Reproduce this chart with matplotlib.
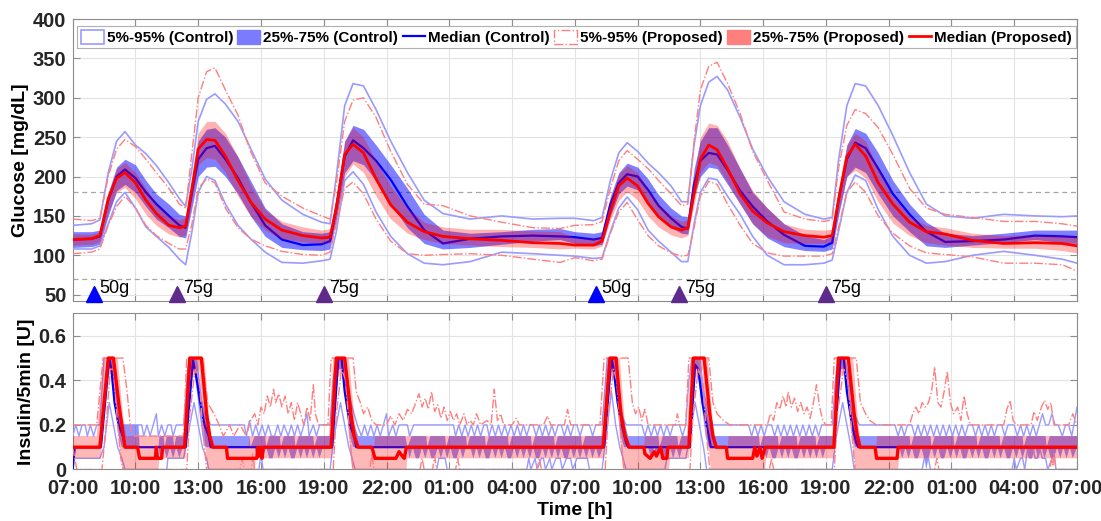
import matplotlib
matplotlib.use("Agg")
import matplotlib.pyplot as plt
from matplotlib.patches import Patch
from matplotlib.lines import Line2D

plt.rcParams['font.family'] = ['Liberation Sans', 'DejaVu Sans']

# ---------------- glucose data (hours after 07:00 day 1) ----------------
T_DAY1 = [0, 0.9, 1.3, 1.7, 2.1, 2.5, 3.0, 3.5, 4.0, 4.6, 5.1, 5.4, 5.7, 6.0, 6.4, 6.8, 7.3, 7.9, 8.5, 9.2,
          10.0, 11.0, 11.9, 12.3, 12.6, 13.0, 13.4, 13.9, 14.5, 15.2, 16.0, 16.8, 17.7, 19.0, 20.5, 22.0, 23.3]
T_DAY2 = [24.0, 24.9, 25.3, 25.7, 26.1, 26.5, 27.0, 27.5, 28.0, 28.6, 29.1, 29.4, 29.7, 30.0, 30.4, 30.8, 31.3,
          31.9, 32.5, 33.2, 34.0, 35.0, 35.9, 36.3, 36.6, 37.0, 37.4, 37.9, 38.5, 39.2, 40.0, 40.8, 41.7, 43.0,
          44.5, 46.0, 47.3, 48.0]

C50_D1 = [120, 121, 124, 170, 200, 209, 198, 180, 165, 150, 138, 135, 180, 222, 236, 239, 222, 198, 168, 138,
          120, 113, 114, 118, 160, 225, 246, 236, 220, 196, 162, 132, 115, 121, 124, 125, 124]
C50_D2 = [123, 120, 122, 165, 192, 203, 200, 183, 163, 147, 136, 134, 190, 220, 230, 228, 208, 182, 162, 143,
          126, 112, 111, 116, 170, 222, 243, 236, 210, 178, 152, 130, 117, 118, 120, 125, 124, 123]
P50_D1 = [120, 121, 125, 172, 198, 205, 192, 170, 153, 138, 135, 137, 185, 235, 247, 246, 226, 195, 168, 146,
          132, 125, 122, 123, 160, 228, 241, 230, 197, 164, 142, 130, 124, 121, 119, 116, 115]
P50_D2 = [113, 113, 118, 156, 188, 198, 188, 166, 149, 136, 132, 135, 179, 222, 240, 234, 210, 178, 156, 141,
          130, 125, 123, 125, 170, 225, 241, 226, 192, 165, 142, 130, 127, 119, 115, 116, 115, 112]
C75_D1 = [130, 130, 132, 180, 212, 222, 215, 195, 178, 165, 152, 150, 195, 245, 260, 262, 250, 225, 195, 160,
          140, 130, 128, 130, 175, 245, 265, 260, 240, 215, 185, 152, 132, 128, 130, 133, 134]
C75_D2 = [130, 128, 130, 175, 205, 217, 212, 197, 177, 160, 150, 149, 210, 245, 262, 262, 240, 210, 180, 160,
          140, 125, 120, 125, 180, 240, 261, 255, 230, 195, 165, 142, 128, 125, 128, 132, 132, 132]
C25_D1 = [110, 111, 114, 150, 182, 190, 180, 162, 146, 135, 124, 122, 160, 200, 212, 213, 200, 178, 150, 124,
          110, 107, 106, 108, 145, 205, 220, 215, 195, 165, 135, 115, 108, 110, 114, 118, 120]
C25_D2 = [115, 112, 114, 150, 178, 188, 183, 165, 148, 135, 128, 127, 175, 200, 212, 210, 190, 165, 140, 122,
          111, 106, 105, 108, 150, 200, 212, 205, 178, 150, 130, 112, 110, 113, 116, 120, 116, 115]
P75_D1 = [127, 127, 130, 178, 210, 218, 205, 185, 165, 150, 145, 148, 200, 255, 270, 270, 255, 225, 190, 158,
          143, 136, 132, 134, 175, 245, 262, 250, 220, 188, 160, 142, 136, 133, 133, 131, 130]
P75_D2 = [122, 121, 125, 170, 203, 214, 205, 183, 165, 150, 143, 145, 200, 250, 268, 265, 245, 210, 182, 160,
          140, 133, 132, 133, 185, 240, 255, 245, 210, 175, 150, 138, 135, 128, 125, 126, 125, 124]
P25_D1 = [113, 114, 117, 155, 180, 186, 172, 152, 138, 127, 123, 126, 170, 215, 224, 222, 205, 175, 150, 132,
          121, 117, 115, 117, 145, 200, 216, 205, 175, 146, 128, 120, 115, 113, 111, 110, 108]
P25_D2 = [109, 108, 112, 145, 170, 181, 170, 150, 136, 126, 122, 125, 165, 205, 218, 214, 192, 165, 140, 124,
          116, 115, 115, 117, 155, 200, 208, 198, 168, 141, 125, 116, 113, 110, 109, 109, 106, 103]
C95_D1 = [138, 140, 145, 205, 245, 257, 240, 229, 214, 192, 172, 162, 210, 270, 298, 305, 292, 270, 236, 197,
          170, 152, 142, 140, 200, 290, 318, 315, 285, 245, 205, 170, 153, 146, 150, 146, 147]
C95_D2 = [147, 144, 148, 195, 230, 243, 232, 217, 205, 188, 168, 168, 240, 290, 320, 327, 310, 275, 235, 200,
          168, 152, 146, 148, 220, 290, 318, 315, 290, 252, 205, 165, 150, 147, 152, 150, 149, 150]
P95_D1 = [146, 144, 147, 200, 235, 247, 238, 222, 205, 185, 165, 160, 230, 300, 333, 338, 310, 278, 232, 192,
          175, 160, 150, 146, 190, 270, 297, 300, 275, 232, 190, 165, 163, 150, 142, 135, 134]
P95_D2 = [138, 139, 143, 185, 220, 233, 222, 210, 195, 178, 163, 165, 245, 310, 340, 345, 318, 280, 232, 195,
          155, 146, 143, 145, 210, 265, 285, 280, 262, 228, 185, 160, 152, 148, 143, 143, 140, 137]
C05_D1 = [108, 108, 112, 140, 168, 180, 160, 136, 124, 110, 95, 88, 130, 180, 200, 195, 165, 138, 121, 104,
          91, 90, 93, 95, 130, 195, 206, 190, 155, 124, 102, 90, 88, 92, 104, 102, 100]
C05_D2 = [99, 96, 97, 130, 160, 174, 158, 132, 118, 104, 92, 92, 140, 180, 198, 196, 175, 152, 124, 100,
          88, 88, 90, 94, 130, 180, 202, 195, 158, 124, 100, 90, 92, 100, 105, 100, 95, 90]
P05_D1 = [102, 104, 108, 138, 162, 175, 160, 138, 125, 115, 108, 108, 140, 185, 197, 192, 160, 135, 121, 112,
          105, 101, 100, 104, 140, 185, 193, 178, 146, 118, 102, 100, 101, 102, 100, 95, 91]
P05_D2 = [97, 93, 95, 128, 155, 167, 145, 125, 112, 103, 99, 100, 135, 175, 194, 190, 165, 138, 115, 103,
          99, 99, 99, 102, 135, 180, 193, 180, 150, 128, 112, 103, 101, 98, 90, 90, 88, 80]

# meals
MEAL_T = [1, 5, 12, 25, 29, 36]
MEAL_LBL = ['50g', '75g', '75g', '50g', '75g', '75g']
MEAL_COL = ['#0000ff', '#5e2a8c', '#5e2a8c', '#0000ff', '#5e2a8c', '#5e2a8c']

XTICK_LBL = ['07:00', '10:00', '13:00', '16:00', '19:00', '22:00', '01:00', '04:00',
             '07:00', '10:00', '13:00', '16:00', '19:00', '22:00', '01:00', '04:00', '07:00']

# ---------------- insulin data: (hour, U/5min) ----------------
INS_C50 = [(0, 0), (0.1, 0.1), (1.35, 0.1), (1.75, 0.5), (1.85, 0.45), (2.0, 0.3), (2.2, 0.2), (2.4, 0.15),
           (2.5, 0.1), (5.4, 0.1), (5.75, 0.49), (5.9, 0.42), (6.1, 0.3), (6.3, 0.2), (6.5, 0.15), (6.6, 0.1),
           (12.4, 0.1), (12.7, 0.5), (12.85, 0.5), (13.0, 0.35), (13.25, 0.2), (13.45, 0.15), (13.55, 0.1),
           (25.4, 0.1), (25.75, 0.5), (25.85, 0.45), (26.05, 0.3), (26.25, 0.2), (26.45, 0.12), (26.55, 0.1),
           (29.5, 0.1), (29.75, 0.47), (29.9, 0.45), (30.1, 0.3), (30.3, 0.2), (30.5, 0.1), (36.4, 0.1),
           (36.7, 0.5), (36.85, 0.5), (37.0, 0.35), (37.25, 0.2), (37.45, 0.12), (37.55, 0.1), (48, 0.1)]

INS_P50 = [(0, 0.1), (1.3, 0.1), (1.7, 0.5), (1.95, 0.5), (2.2, 0.3), (2.35, 0.2), (2.5, 0.1), (3.1, 0.1),
           (3.2, 0.05), (3.95, 0.05), (4.0, 0.1), (4.05, 0.05), (4.25, 0.05), (4.3, 0.1), (5.35, 0.1), (5.6, 0.5),
           (6.15, 0.5), (6.4, 0.25), (6.55, 0.15), (6.7, 0.1), (7.35, 0.1), (7.4, 0.05), (8.8, 0.05), (8.85, 0.1),
           (8.9, 0.06), (9.0, 0.1), (9.05, 0.05), (9.1, 0.1), (12.35, 0.1), (12.6, 0.5), (13.0, 0.5),
           (13.3, 0.25), (13.45, 0.15), (13.65, 0.1), (14.3, 0.1), (14.45, 0.05), (15.45, 0.05), (15.6, 0.08),
           (15.75, 0.06), (15.85, 0.05), (15.95, 0.1), (25.35, 0.1), (25.68, 0.5), (25.97, 0.5), (26.2, 0.25),
           (26.4, 0.15), (26.6, 0.1), (27.3, 0.1), (27.35, 0.07), (27.6, 0.05), (27.8, 0.08), (27.9, 0.06),
           (28.1, 0.1), (28.2, 0.05), (28.4, 0.05), (28.45, 0.1), (29.45, 0.1), (29.67, 0.5), (30.18, 0.5),
           (30.45, 0.25), (30.6, 0.15), (30.76, 0.1), (31.24, 0.1), (31.3, 0.05), (32.5, 0.05), (32.6, 0.1),
           (32.7, 0.06), (32.85, 0.1), (32.95, 0.05), (33.1, 0.1), (36.38, 0.1), (36.6, 0.5), (37.07, 0.5),
           (37.35, 0.25), (37.5, 0.15), (37.63, 0.1), (38.35, 0.1), (38.42, 0.05), (39.4, 0.05), (39.45, 0.1),
           (48, 0.1)]

INS_P75 = [(0, 0.15), (1.15, 0.15), (1.45, 0.5), (2.15, 0.5), (2.4, 0.25), (2.55, 0.15), (5.3, 0.15),
           (5.5, 0.5), (6.3, 0.5), (6.55, 0.2), (6.7, 0.1), (8.4, 0.1), (8.45, 0.15), (12.25, 0.15), (12.45, 0.5),
           (13.2, 0.5), (13.5, 0.2), (13.7, 0.1), (14.4, 0.1), (14.45, 0.15), (25.25, 0.15), (25.55, 0.5),
           (26.15, 0.5), (26.4, 0.2), (26.6, 0.1), (27.3, 0.1), (27.35, 0.15), (29.35, 0.15), (29.55, 0.5),
           (30.35, 0.5), (30.6, 0.2), (30.8, 0.1), (31.3, 0.1), (31.35, 0.15), (36.3, 0.15), (36.5, 0.5),
           (37.3, 0.5), (37.55, 0.2), (37.7, 0.1), (38.4, 0.1), (38.45, 0.15), (48, 0.15)]

INS_P25 = [(0, 0.05), (1.35, 0.05), (1.65, 0.4), (1.9, 0.45), (2.1, 0.25), (2.3, 0.05), (2.4, 0), (4.1, 0),
           (4.15, 0.05), (5.4, 0.05), (5.6, 0.4), (6.05, 0.45), (6.3, 0.15), (6.45, 0), (8.7, 0), (8.75, 0.05),
           (12.4, 0.05), (12.6, 0.4), (12.95, 0.45), (13.2, 0.15), (13.35, 0), (15.95, 0), (16.0, 0.05),
           (25.4, 0.05), (25.65, 0.4), (25.95, 0.45), (26.15, 0.15), (26.3, 0), (28.5, 0), (28.55, 0.05),
           (29.45, 0.05), (29.65, 0.4), (30.1, 0.45), (30.35, 0.15), (30.5, 0), (33.1, 0), (33.15, 0.05),
           (36.4, 0.05), (36.6, 0.4), (37.0, 0.45), (37.25, 0.15), (37.4, 0), (39.45, 0), (39.5, 0.05), (48, 0.05)]

INS_C75 = [(0, 0.1), (1.35, 0.1), (1.7, 0.5), (1.95, 0.5), (2.15, 0.35), (2.35, 0.2), (3.15, 0.2), (3.2, 0.1),
           (4.1, 0.1), (4.15, 0.15), (4.35, 0.15), (4.4, 0.1), (4.5, 0.15), (4.8, 0.15), (4.85, 0.1), (4.95, 0.15),
           (5.35, 0.15), (5.6, 0.5), (5.95, 0.5), (6.2, 0.3), (6.45, 0.2), (6.6, 0.15), (8.45, 0.15), (8.5, 0.1),
           (8.7, 0.15), (9.2, 0.15), (9.25, 0.1), (9.4, 0.15), (9.9, 0.15), (9.95, 0.1), (10.1, 0.15),
           (10.6, 0.15), (10.65, 0.1), (10.8, 0.15), (11.5, 0.15), (11.55, 0.1), (11.7, 0.15), (12.35, 0.15),
           (12.6, 0.5), (12.95, 0.5), (13.2, 0.3), (13.45, 0.2), (13.65, 0.15), (15.9, 0.15), (16.0, 0.1),
           (16.2, 0.15), (16.9, 0.15), (16.95, 0.1), (17.1, 0.15), (17.8, 0.15), (17.85, 0.1), (18.0, 0.15),
           (18.8, 0.15), (18.85, 0.1), (19.0, 0.15), (19.7, 0.15), (19.75, 0.1), (19.9, 0.15), (20.8, 0.15),
           (20.85, 0.1), (21.0, 0.15), (21.9, 0.15), (21.95, 0.1), (22.1, 0.15), (23.0, 0.15), (23.05, 0.1),
           (23.2, 0.15), (24.3, 0.15), (24.35, 0.1), (24.5, 0.15), (25.35, 0.15), (25.6, 0.5), (25.95, 0.5),
           (26.2, 0.3), (26.4, 0.2), (26.55, 0.15), (28.0, 0.15), (28.05, 0.1), (28.2, 0.15), (28.9, 0.15),
           (28.95, 0.1), (29.1, 0.15), (29.45, 0.15), (29.65, 0.5), (30.0, 0.5), (30.25, 0.3), (30.45, 0.2),
           (30.6, 0.15), (32.8, 0.15), (32.85, 0.1), (33.0, 0.15), (33.7, 0.15), (33.75, 0.1), (33.9, 0.15),
           (34.6, 0.15), (34.65, 0.1), (34.8, 0.15), (35.5, 0.15), (35.55, 0.1), (35.7, 0.15), (36.4, 0.15),
           (36.65, 0.5), (36.95, 0.5), (37.2, 0.3), (37.4, 0.2), (37.55, 0.15), (40.0, 0.15), (40.05, 0.1),
           (40.2, 0.15), (41.0, 0.15), (41.05, 0.1), (41.2, 0.15), (42.1, 0.15), (42.15, 0.1), (42.3, 0.15),
           (43.2, 0.15), (43.25, 0.1), (43.4, 0.15), (44.3, 0.15), (44.35, 0.1), (44.5, 0.15), (45.4, 0.15),
           (45.45, 0.1), (45.6, 0.15), (46.5, 0.15), (46.55, 0.1), (46.7, 0.15), (48, 0.15)]

INS_C25 = [(0, 0.1), (1.35, 0.1), (1.7, 0.45), (1.85, 0.45), (2.0, 0.3), (2.2, 0.15), (2.35, 0.1), (4.1, 0.1),
           (4.2, 0.05), (4.35, 0.1), (4.5, 0.05), (4.65, 0.1), (4.8, 0.05), (4.95, 0.1), (5.1, 0.05), (5.25, 0.1),
           (5.4, 0.1), (5.65, 0.45), (5.8, 0.45), (6.0, 0.3), (6.2, 0.15), (6.35, 0.1), (8.7, 0.1), (8.8, 0.05),
           (8.95, 0.1), (9.1, 0.05), (9.25, 0.1), (9.4, 0.05), (9.55, 0.05), (9.7, 0.1), (9.85, 0.05), (10.0, 0.1),
           (10.15, 0.05), (10.3, 0.1), (10.45, 0.05), (10.6, 0.05), (10.75, 0.1), (10.9, 0.05), (11.05, 0.1),
           (11.2, 0.05), (11.35, 0.1), (11.5, 0.05), (11.65, 0.1), (11.8, 0.05), (11.95, 0.1), (12.45, 0.1),
           (12.7, 0.45), (12.85, 0.45), (13.05, 0.3), (13.25, 0.15), (13.4, 0.1), (16.0, 0.1), (16.1, 0.05),
           (16.25, 0.1), (16.4, 0.05), (16.55, 0.05), (16.7, 0.1), (16.85, 0.05), (17.0, 0.1), (17.15, 0.05),
           (17.3, 0.05), (17.45, 0.1), (17.6, 0.05), (17.75, 0.1), (17.9, 0.05), (18.05, 0.1), (18.2, 0.05),
           (18.35, 0.05), (18.5, 0.1), (18.65, 0.05), (18.8, 0.1), (19.0, 0.1), (19.15, 0.05), (19.3, 0.1),
           (19.45, 0.05), (19.6, 0.1), (19.75, 0.05), (19.9, 0.05), (20.05, 0.1), (20.2, 0.05), (20.35, 0.1),
           (20.5, 0.05), (20.65, 0.1), (20.8, 0.05), (20.95, 0.05), (21.1, 0.1), (21.25, 0.05), (21.4, 0.1),
           (21.55, 0.05), (21.7, 0.1), (21.85, 0.05), (22.0, 0.1), (22.15, 0.05), (22.3, 0.05), (22.45, 0.1),
           (22.6, 0.05), (22.75, 0.1), (22.9, 0.05), (23.05, 0.1), (23.2, 0.05), (23.35, 0.1), (23.5, 0.05),
           (23.65, 0.05), (23.8, 0.1), (23.95, 0.05), (24.1, 0.1), (24.25, 0.05), (24.4, 0.1), (24.55, 0.05),
           (24.7, 0.1), (24.85, 0.05), (25.0, 0.1), (25.15, 0.05), (25.35, 0.1), (25.6, 0.45), (25.8, 0.45),
           (26.0, 0.3), (26.2, 0.15), (26.35, 0.1), (27.5, 0.1), (27.65, 0.05), (27.8, 0.1), (27.95, 0.05),
           (28.1, 0.1), (28.25, 0.05), (28.4, 0.05), (28.55, 0.1), (28.7, 0.05), (28.85, 0.1), (29.0, 0.05),
           (29.15, 0.1), (29.45, 0.1), (29.7, 0.45), (29.85, 0.45), (30.05, 0.3), (30.25, 0.15), (30.4, 0.1),
           (33.0, 0.1), (33.15, 0.05), (33.3, 0.1), (33.45, 0.05), (33.6, 0.05), (33.75, 0.1), (33.9, 0.05),
           (34.05, 0.1), (34.2, 0.05), (34.35, 0.1), (34.5, 0.05), (34.65, 0.05), (34.8, 0.1), (34.95, 0.05),
           (35.1, 0.1), (35.25, 0.05), (35.4, 0.1), (35.55, 0.05), (35.7, 0.1), (35.85, 0.05), (36.0, 0.1),
           (36.4, 0.1), (36.65, 0.45), (36.85, 0.45), (37.05, 0.3), (37.25, 0.15), (37.4, 0.1), (39.5, 0.1),
           (39.65, 0.05), (39.8, 0.1), (39.95, 0.05), (40.1, 0.1), (40.25, 0.05), (40.4, 0.05), (40.55, 0.1),
           (40.7, 0.05), (40.8, 0.0), (40.9, 0.05), (41.05, 0.1), (41.2, 0.05), (41.35, 0.1), (41.5, 0.05),
           (41.65, 0.05), (41.8, 0.1), (41.95, 0.05), (42.1, 0.1), (42.25, 0.05), (42.4, 0.1), (42.55, 0.05),
           (42.7, 0.05), (42.85, 0.1), (43.0, 0.05), (43.15, 0.1), (43.3, 0.05), (43.45, 0.1), (43.6, 0.05),
           (43.75, 0.05), (43.9, 0.1), (44.05, 0.05), (44.2, 0.1), (44.35, 0.05), (44.5, 0.1), (44.65, 0.05),
           (44.8, 0.05), (44.95, 0.1), (45.1, 0.05), (45.25, 0.1), (45.4, 0.05), (45.55, 0.1), (45.7, 0.05),
           (45.85, 0.05), (46.0, 0.1), (46.15, 0.05), (46.3, 0.1), (46.45, 0.05), (46.6, 0.1), (46.75, 0.05),
           (46.9, 0.05), (47.05, 0.1), (47.2, 0.05), (47.35, 0.1), (47.5, 0.05), (47.65, 0.1), (47.8, 0.05),
           (48, 0.1)]

INS_C95 = [(0, 0.15), (0.15, 0.2), (0.3, 0.15), (0.45, 0.2), (0.6, 0.2), (0.7, 0.15), (0.85, 0.2), (1.0, 0.15),
           (1.15, 0.2), (1.3, 0.2), (1.5, 0.5), (1.75, 0.5), (1.9, 0.4), (2.1, 0.3), (2.3, 0.2), (3.3, 0.2),
           (3.4, 0.15), (3.55, 0.2), (3.7, 0.15), (3.85, 0.2), (4.0, 0.25), (4.1, 0.15), (4.25, 0.2), (4.4, 0.15),
           (4.55, 0.2), (4.7, 0.2), (4.8, 0.15), (4.95, 0.2), (5.3, 0.2), (5.5, 0.45), (5.6, 0.5), (5.85, 0.5),
           (6.05, 0.35), (6.3, 0.25), (6.6, 0.2), (8.2, 0.2), (8.3, 0.15), (8.45, 0.22), (8.6, 0.15), (8.75, 0.2),
           (8.9, 0.15), (9.05, 0.2), (9.2, 0.15), (9.35, 0.2), (9.5, 0.15), (9.65, 0.15), (9.8, 0.2), (9.95, 0.15),
           (10.1, 0.2), (10.3, 0.15), (10.45, 0.2), (10.6, 0.15), (10.75, 0.2), (10.9, 0.15), (11.05, 0.2),
           (11.2, 0.25), (11.3, 0.15), (11.5, 0.2), (11.65, 0.15), (11.8, 0.2), (12.3, 0.2), (12.45, 0.4),
           (12.6, 0.5), (12.85, 0.5), (13.05, 0.4), (13.3, 0.3), (13.6, 0.2), (13.8, 0.15), (13.95, 0.2),
           (14.1, 0.15), (14.25, 0.2), (14.4, 0.15), (14.55, 0.2), (14.7, 0.15), (14.85, 0.2), (15.0, 0.25),
           (15.1, 0.15), (15.3, 0.2), (15.45, 0.15), (15.6, 0.2), (16.0, 0.2), (16.1, 0.15), (16.3, 0.2),
           (18.2, 0.2), (18.3, 0.15), (18.45, 0.2), (18.6, 0.15), (18.75, 0.2), (18.9, 0.15), (19.05, 0.2),
           (19.2, 0.15), (19.35, 0.2), (19.5, 0.15), (19.65, 0.2), (19.8, 0.2), (19.9, 0.15), (20.05, 0.2),
           (20.2, 0.15), (20.35, 0.2), (20.5, 0.15), (20.65, 0.2), (20.8, 0.15), (20.95, 0.2), (21.1, 0.15),
           (21.25, 0.2), (21.4, 0.15), (21.55, 0.2), (21.7, 0.15), (21.85, 0.2), (22.0, 0.2), (22.15, 0.15),
           (22.3, 0.2), (22.45, 0.15), (22.6, 0.2), (22.75, 0.15), (22.9, 0.2), (23.05, 0.15), (23.2, 0.2),
           (23.35, 0.2), (23.5, 0.15), (23.65, 0.2), (23.8, 0.15), (23.95, 0.2), (24.1, 0.2), (24.25, 0.15),
           (24.4, 0.2), (24.7, 0.2), (24.85, 0.15), (25.0, 0.2), (25.3, 0.2), (25.55, 0.5), (25.8, 0.5),
           (26.0, 0.35), (26.2, 0.25), (26.45, 0.2), (27.2, 0.2), (27.35, 0.15), (27.5, 0.2), (27.65, 0.15),
           (27.8, 0.2), (27.95, 0.15), (28.1, 0.2), (28.25, 0.15), (28.4, 0.2), (28.55, 0.15), (28.7, 0.2),
           (29.0, 0.2), (29.15, 0.15), (29.3, 0.2), (29.45, 0.4), (29.6, 0.5), (29.95, 0.5), (30.15, 0.35),
           (30.4, 0.25), (30.6, 0.2), (32.3, 0.2), (32.45, 0.15), (32.6, 0.2), (32.75, 0.15), (32.9, 0.2),
           (33.05, 0.15), (33.2, 0.2), (33.4, 0.2), (33.55, 0.15), (33.7, 0.2), (33.85, 0.15), (34.0, 0.2),
           (34.15, 0.15), (34.3, 0.2), (34.45, 0.15), (34.6, 0.2), (34.75, 0.15), (34.9, 0.2), (35.05, 0.15),
           (35.2, 0.2), (35.35, 0.15), (35.5, 0.2), (35.65, 0.15), (35.8, 0.2), (36.3, 0.2), (36.45, 0.4),
           (36.6, 0.5), (36.9, 0.5), (37.1, 0.4), (37.35, 0.25), (37.6, 0.2), (39.3, 0.2), (39.45, 0.15),
           (39.6, 0.2), (39.75, 0.15), (39.9, 0.2), (40.1, 0.2), (40.25, 0.15), (40.4, 0.2), (40.55, 0.15),
           (40.7, 0.2), (40.85, 0.15), (41.0, 0.2), (41.15, 0.15), (41.3, 0.2), (41.45, 0.15), (41.6, 0.2),
           (41.75, 0.15), (41.9, 0.2), (42.05, 0.15), (42.2, 0.2), (42.35, 0.15), (42.5, 0.2), (42.65, 0.15),
           (42.8, 0.2), (43.0, 0.2), (43.15, 0.15), (43.3, 0.2), (43.45, 0.15), (43.6, 0.2), (43.75, 0.15),
           (43.9, 0.2), (44.05, 0.15), (44.2, 0.2), (44.4, 0.2), (44.55, 0.15), (44.7, 0.2), (45.0, 0.2),
           (45.15, 0.15), (45.3, 0.2), (45.45, 0.15), (45.6, 0.2), (45.75, 0.15), (45.9, 0.2), (46.05, 0.15),
           (46.2, 0.2), (46.35, 0.25), (46.5, 0.2), (46.65, 0.2), (46.8, 0.25), (46.95, 0.2), (47.1, 0.2),
           (47.3, 0.15), (47.45, 0.2), (47.6, 0.2), (47.75, 0.15), (47.85, 0.2), (48.0, 0.28)]

INS_C05 = [(0, 0.05), (1.3, 0.05), (1.5, 0.1), (1.75, 0.3), (1.95, 0.2), (2.15, 0.1), (2.35, 0.05), (2.5, 0),
           (4.5, 0), (4.55, 0.05), (5.3, 0.05), (5.5, 0.15), (5.8, 0.3), (6.0, 0.2), (6.2, 0.1), (6.4, 0.05),
           (6.5, 0), (8.9, 0), (9.0, 0.07), (9.1, 0), (12.3, 0), (12.5, 0.15), (12.8, 0.3), (13.0, 0.2),
           (13.2, 0.1), (13.35, 0.05), (13.5, 0), (17.4, 0), (17.5, 0.05), (17.8, 0.05), (17.9, 0), (21.7, 0),
           (21.8, 0.05), (21.9, 0), (22.1, 0.05), (22.2, 0), (22.4, 0.05), (22.5, 0.05), (22.6, 0), (22.8, 0.05),
           (22.9, 0), (23.1, 0.05), (23.3, 0.05), (23.4, 0), (23.6, 0.05), (23.8, 0.05), (23.9, 0), (24.1, 0.05),
           (24.6, 0.05), (24.7, 0), (25.3, 0), (25.5, 0.15), (25.75, 0.35), (25.95, 0.2), (26.15, 0.1),
           (26.3, 0.05), (26.45, 0), (28.3, 0), (28.4, 0.05), (29.3, 0.05), (29.5, 0.15), (29.75, 0.3),
           (29.95, 0.2), (30.15, 0.1), (30.3, 0), (36.3, 0), (36.5, 0.15), (36.8, 0.3), (37.0, 0.2), (37.2, 0.1),
           (37.35, 0), (40.6, 0), (40.7, 0.05), (40.9, 0.05), (41.0, 0), (44.9, 0), (45.0, 0.05), (45.1, 0),
           (45.3, 0.05), (45.4, 0.05), (45.5, 0), (45.65, 0.1), (45.8, 0.05), (45.9, 0.1), (46.0, 0.05),
           (46.1, 0.05), (46.2, 0.1), (46.35, 0.05), (46.5, 0.05), (46.6, 0), (46.9, 0.07), (47.0, 0), (48, 0)]

INS_P95 = [(0, 0.2), (1.15, 0.2), (1.45, 0.5), (2.4, 0.5), (2.6, 0.35), (2.75, 0.2), (2.85, 0.15), (5.3, 0.15),
           (5.45, 0.5), (6.2, 0.5), (6.45, 0.3), (6.75, 0.25), (7.0, 0.2), (7.2, 0.15), (7.5, 0.2), (7.7, 0.15),
           (8.0, 0.2), (8.3, 0.15), (8.5, 0.22), (8.7, 0.25), (8.85, 0.2), (9.0, 0.28), (9.15, 0.25), (9.3, 0.33),
           (9.45, 0.28), (9.6, 0.36), (9.7, 0.3), (9.85, 0.34), (10.0, 0.28), (10.15, 0.33), (10.3, 0.25),
           (10.45, 0.3), (10.6, 0.22), (10.75, 0.3), (10.9, 0.25), (11.05, 0.2), (11.2, 0.28), (11.35, 0.22),
           (11.5, 0.38), (11.6, 0.25), (11.75, 0.2), (12.2, 0.2), (12.35, 0.5), (13.4, 0.5), (13.55, 0.35),
           (13.75, 0.3), (13.9, 0.25), (14.1, 0.28), (14.3, 0.22), (14.5, 0.2), (15.0, 0.2), (15.2, 0.24),
           (15.4, 0.2), (15.6, 0.25), (15.8, 0.22), (16.0, 0.27), (16.2, 0.25), (16.4, 0.3), (16.55, 0.34),
           (16.7, 0.28), (16.85, 0.32), (17.0, 0.27), (17.15, 0.35), (17.3, 0.26), (17.45, 0.29), (17.6, 0.23),
           (17.75, 0.28), (17.9, 0.22), (18.05, 0.26), (18.2, 0.22), (18.35, 0.25), (18.5, 0.2), (18.7, 0.25),
           (18.85, 0.2), (19.0, 0.22), (19.15, 0.2), (19.3, 0.25), (19.5, 0.2), (19.8, 0.22), (20.0, 0.2),
           (20.15, 0.36), (20.3, 0.22), (20.45, 0.25), (20.6, 0.2), (21.0, 0.2), (21.2, 0.23), (21.35, 0.2),
           (22.5, 0.2), (22.7, 0.24), (22.85, 0.2), (23.5, 0.2), (23.65, 0.27), (23.8, 0.2), (25.2, 0.2),
           (25.4, 0.5), (26.55, 0.5), (26.75, 0.3), (26.9, 0.25), (27.05, 0.28), (27.2, 0.22), (27.35, 0.27),
           (27.5, 0.2), (28.8, 0.2), (28.9, 0.25), (29.0, 0.2), (29.3, 0.2), (29.45, 0.5), (30.4, 0.5),
           (30.6, 0.3), (30.8, 0.25), (31.1, 0.22), (31.4, 0.2), (33.2, 0.2), (33.35, 0.25), (33.5, 0.22),
           (33.65, 0.3), (33.8, 0.27), (33.95, 0.33), (34.1, 0.28), (34.2, 0.35), (34.35, 0.28), (34.5, 0.32),
           (34.65, 0.26), (34.8, 0.3), (34.95, 0.25), (35.1, 0.28), (35.25, 0.23), (35.4, 0.3), (35.55, 0.38),
           (35.7, 0.28), (35.85, 0.22), (36.0, 0.2), (36.25, 0.2), (36.4, 0.5), (37.45, 0.5), (37.65, 0.3),
           (37.9, 0.25), (38.1, 0.22), (38.4, 0.2), (40.0, 0.2), (40.15, 0.25), (40.3, 0.28), (40.45, 0.25),
           (40.6, 0.3), (40.75, 0.28), (40.9, 0.3), (41.05, 0.35), (41.2, 0.46), (41.35, 0.3), (41.5, 0.28),
           (41.65, 0.35), (41.8, 0.44), (41.95, 0.3), (42.1, 0.25), (42.3, 0.28), (42.45, 0.22), (42.6, 0.33),
           (42.75, 0.25), (42.9, 0.2), (44.5, 0.2), (44.65, 0.27), (44.8, 0.31), (44.95, 0.22), (45.1, 0.2),
           (45.8, 0.2), (45.95, 0.26), (46.1, 0.22), (46.3, 0.28), (46.45, 0.31), (46.6, 0.27), (46.75, 0.3),
           (46.9, 0.2), (47.6, 0.2), (47.8, 0.25), (48, 0.2)]

INS_P05 = [(0, 0.1), (0.1, 0.05), (0.2, 0), (1.4, 0), (1.6, 0.2), (1.8, 0.45), (1.95, 0.45), (2.15, 0.2),
           (2.3, 0.05), (2.4, 0), (5.45, 0), (5.6, 0.25), (5.85, 0.45), (6.05, 0.4), (6.25, 0.15), (6.4, 0),
           (8.0, 0), (8.1, 0.05), (8.2, 0), (8.55, 0), (8.6, 0.07), (8.7, 0), (12.45, 0), (12.6, 0.25),
           (12.85, 0.45), (13.05, 0.4), (13.25, 0.15), (13.4, 0), (14.2, 0), (14.3, 0.07), (14.4, 0), (16.6, 0),
           (16.7, 0.05), (16.8, 0), (17.2, 0), (17.3, 0.06), (17.4, 0), (18.3, 0), (18.4, 0.05), (18.5, 0),
           (22.2, 0), (22.3, 0.05), (22.4, 0), (25.45, 0), (25.6, 0.25), (25.85, 0.45), (26.0, 0.4),
           (26.2, 0.15), (26.35, 0), (29.5, 0), (29.65, 0.25), (29.9, 0.45), (30.1, 0.4), (30.3, 0.15),
           (30.45, 0), (33.3, 0), (33.4, 0.05), (33.5, 0), (36.4, 0), (36.55, 0.25), (36.85, 0.45), (37.05, 0.4),
           (37.25, 0.15), (37.4, 0), (41.2, 0), (41.3, 0.05), (41.4, 0), (46.7, 0), (46.8, 0.05), (46.85, 0.02),
           (46.9, 0.07), (47.0, 0), (48, 0)]

# ---------------- styling ----------------
BLUE = '#0000ff'
RED = '#ff0000'
C_LIGHT = '#9a9aff'
P_LIGHT = '#ff7f7f'
SPINE = '#8c8c8c'
GRID = '#e3e3e3'


def xy(pairs):
    return [p[0] for p in pairs], [p[1] for p in pairs]


def band(ax, lo_pairs, hi_pairs, color, alpha, zorder):
    tx_hi, v_hi = xy(hi_pairs)
    tx_lo, v_lo = xy(lo_pairs)
    ax.fill(tx_hi + tx_lo[::-1], v_hi + v_lo[::-1], color=color, alpha=alpha, lw=0, zorder=zorder)


def style_axes(ax):
    for s in ax.spines.values():
        s.set_color(SPINE)
        s.set_linewidth(0.8)
    ax.tick_params(direction='in', length=5, width=0.8, color=SPINE, top=True, right=True,
                   labelsize=14.5, pad=4.5)
    ax.grid(True, color=GRID, lw=0.8)
    ax.set_axisbelow(True)


fig = plt.figure(figsize=(11.01, 5.21), dpi=100)
ax1 = fig.add_axes([0.066, 0.4223, 0.9122, 0.5412])
ax2 = fig.add_axes([0.066, 0.0989, 0.9122, 0.2994])

T = T_DAY1 + T_DAY2
C05, C25, C50 = C05_D1 + C05_D2, C25_D1 + C25_D2, C50_D1 + C50_D2
C75, C95 = C75_D1 + C75_D2, C95_D1 + C95_D2
P05, P25, P50 = P05_D1 + P05_D2, P25_D1 + P25_D2, P50_D1 + P50_D2
P75, P95 = P75_D1 + P75_D2, P95_D1 + P95_D2

# ---- top: glucose ----
ax1.axhline(180, color='#a6a6a6', ls=(0, (4, 3)), lw=0.9, zorder=1)
ax1.axhline(70, color='#a6a6a6', ls=(0, (4, 3)), lw=0.9, zorder=1)
ax1.fill_between(T, C25, C75, color=BLUE, alpha=0.5, lw=0, zorder=2)
ax1.plot(T, C95, color=C_LIGHT, lw=1.2, zorder=3)
ax1.plot(T, C05, color=C_LIGHT, lw=1.2, zorder=3)
ax1.plot(T, C50, color=BLUE, lw=1.6, zorder=4)
ax1.fill_between(T, P25, P75, color=RED, alpha=0.3, lw=0, zorder=5)
ax1.plot(T, P95, color=P_LIGHT, lw=1.0, ls='-.', zorder=6)
ax1.plot(T, P05, color=P_LIGHT, lw=1.0, ls='-.', zorder=6)
ax1.plot(T, P50, color=RED, lw=2.0, zorder=7)

for t, lbl, col in zip(MEAL_T, MEAL_LBL, MEAL_COL):
    ax1.plot([t], [51], marker='^', ms=11.5, color=col, mec=col, ls='none', zorder=8, clip_on=False)
    ax1.text(t + 0.27, 52.5, lbl, fontsize=13, ha='left', va='baseline', zorder=8)

ax1.set_xlim(0, 48)
ax1.set_ylim(42, 400)
ax1.set_xticks(range(0, 49, 3))
ax1.set_yticks([50, 100, 150, 200, 250, 300, 350, 400])
style_axes(ax1)
ax1.tick_params(labelbottom=False)
for lab in ax1.get_yticklabels():
    lab.set_fontweight('bold')
    lab.set_color('#262626')
ax1.set_ylabel('Glucose [mg/dL]', fontsize=14, fontweight='bold')
ax1.yaxis.set_label_coords(-0.043, 0.5)

handles = [Patch(facecolor='white', edgecolor=C_LIGHT, lw=1.2),
           Patch(facecolor='#7b7bff', edgecolor='#7b7bff'),
           Line2D([], [], color=BLUE, lw=1.6),
           Patch(facecolor='white', edgecolor=P_LIGHT, lw=1.0, ls='-.'),
           Patch(facecolor='#ff7f7f', edgecolor='#ff7f7f'),
           Line2D([], [], color=RED, lw=2.0)]
labels = ['5%-95% (Control)', '25%-75% (Control)', 'Median (Control)',
          '5%-95% (Proposed)', '25%-75% (Proposed)', 'Median (Proposed)']
leg = ax1.legend(handles, labels, ncol=6, loc='upper center', bbox_to_anchor=(0.5016, 0.985),
                 prop={'weight': 'bold', 'size': 11}, frameon=True, fancybox=False, edgecolor='#b0b0b0',
                 framealpha=1, handlelength=1.5, handleheight=1.05, columnspacing=0.28,
                 handletextpad=0.2, borderpad=0.22, borderaxespad=0.2)
leg.get_frame().set_linewidth(0.8)

# ---- bottom: insulin ----
band(ax2, INS_C25, INS_C75, BLUE, 0.42, 2)
ax2.plot(*xy(INS_C95), color=C_LIGHT, lw=1.0, zorder=3)
ax2.plot(*xy(INS_C05), color=C_LIGHT, lw=1.0, zorder=3)
ax2.plot(*xy(INS_C50), color=BLUE, lw=1.6, zorder=4)
band(ax2, INS_P25, INS_P75, RED, 0.28, 5)
ax2.plot(*xy(INS_P95), color=P_LIGHT, lw=1.0, ls='-.', zorder=6)
ax2.plot(*xy(INS_P05), color=P_LIGHT, lw=1.0, ls='-.', zorder=6)
ax2.plot(*xy(INS_P50), color=RED, lw=2.4, zorder=7)

ax2.set_xlim(0, 48)
ax2.set_ylim(0, 0.7)
ax2.set_xticks(range(0, 49, 3))
ax2.set_xticklabels(XTICK_LBL)
ax2.set_yticks([0, 0.2, 0.4, 0.6])
ax2.set_yticklabels(['0', '0.2', '0.4', '0.6'])
style_axes(ax2)
ax2.tick_params(axis='x', pad=7)
for lab in ax2.get_xticklabels() + ax2.get_yticklabels():
    lab.set_fontweight('bold')
    lab.set_color('#262626')
ax2.set_ylabel('Insulin/5min [U]', fontsize=14, fontweight='bold')
ax2.yaxis.set_label_coords(-0.038, 0.5)
ax2.set_xlabel('Time [h]', fontsize=14, fontweight='bold', labelpad=3)

fig.savefig('out.png', dpi=100)
